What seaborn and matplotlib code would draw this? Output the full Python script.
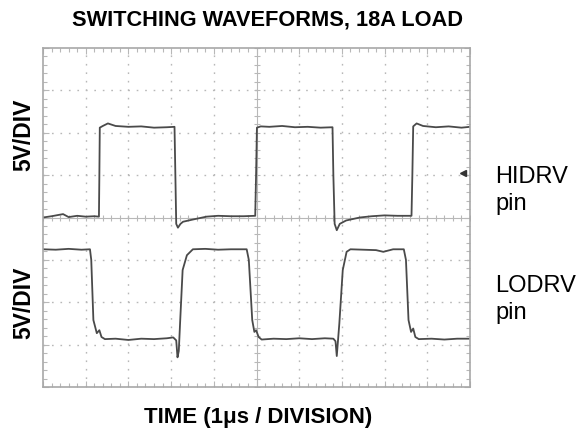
import numpy as np
import pandas as pd
import seaborn as sns
import matplotlib.pyplot as plt

# traces, in divisions (x: 1us/div, y: 5V/div)
hidrv_t = [0.00, 0.20, 0.47, 0.60, 0.80, 1.00, 1.20, 1.31, 1.32, 1.33, 1.40, 1.52, 1.70, 2.00,
           2.30, 2.60, 2.90, 3.08, 3.10, 3.12, 3.16, 3.22, 3.28, 3.50, 3.83, 4.10, 4.40, 4.70,
           4.97, 4.99, 5.01, 5.10, 5.30, 5.60, 5.90, 6.20, 6.50, 6.78, 6.80, 6.83, 6.88, 6.95,
           7.10, 7.42, 7.70, 8.00, 8.30, 8.63, 8.65, 8.67, 8.75, 8.90, 9.20, 9.50, 9.80, 10.00]
hidrv_v = [4.00, 4.03, 4.08, 4.01, 4.04, 4.02, 4.03, 4.02, 5.00, 6.12, 6.16, 6.22, 6.16, 6.14,
           6.15, 6.12, 6.13, 6.14, 5.00, 3.85, 3.76, 3.85, 3.90, 3.95, 4.02, 4.04, 4.03, 4.03,
           4.04, 5.00, 6.12, 6.15, 6.14, 6.16, 6.13, 6.14, 6.12, 6.13, 5.00, 3.85, 3.70, 3.85,
           3.93, 4.00, 4.03, 4.05, 4.04, 4.04, 5.00, 6.15, 6.22, 6.16, 6.13, 6.15, 6.12, 6.14]

lodrv_t = [0.00, 0.30, 0.60, 0.90, 1.10, 1.13, 1.18, 1.26, 1.32, 1.37, 1.45, 1.70, 2.00, 2.30,
           2.60, 2.90, 3.05, 3.12, 3.15, 3.18, 3.21, 3.27, 3.37, 3.51, 3.80, 4.10, 4.40, 4.77,
           4.82, 4.90, 4.95, 4.99, 5.05, 5.12, 5.40, 5.70, 6.00, 6.30, 6.60, 6.80, 6.85, 6.88,
           6.94, 7.02, 7.11, 7.20, 7.50, 7.80, 7.97, 8.20, 8.45, 8.50, 8.56, 8.62, 8.67, 8.72,
           8.80, 9.10, 9.40, 9.70, 10.00]
lodrv_v = [3.25, 3.24, 3.26, 3.24, 3.25, 3.00, 1.58, 1.27, 1.34, 1.18, 1.13, 1.14, 1.11, 1.14,
           1.13, 1.15, 1.17, 1.10, 0.70, 0.85, 1.50, 2.76, 3.11, 3.25, 3.26, 3.24, 3.25, 3.25,
           3.00, 1.58, 1.30, 1.34, 1.18, 1.12, 1.14, 1.13, 1.15, 1.13, 1.15, 1.14, 1.08, 0.73,
           1.50, 2.76, 3.19, 3.25, 3.24, 3.23, 3.19, 3.25, 3.25, 3.00, 1.58, 1.30, 1.38, 1.18,
           1.13, 1.14, 1.12, 1.14, 1.14]

# ground reference marker for channel 1
ref_x = [9.84]
ref_y = [5.05]

n_xdiv = 10
n_ydiv = 8

df = pd.concat([
    pd.DataFrame({"t": hidrv_t, "v": hidrv_v, "ch": "HIDRV"}),
    pd.DataFrame({"t": lodrv_t, "v": lodrv_v, "ch": "LODRV"}),
], ignore_index=True)

sns.set_style("white")
plt.rcParams['font.family'] = ['Liberation Sans', 'DejaVu Sans']
plt.rcParams['text.color'] = 'black'

fig = plt.figure(figsize=(5.76, 4.32), dpi=100)
ax = fig.add_axes([43/576, 1-387/432, 427/576, 339/432])

grid_c = "#b8b8b8"
# dotted graticule
for gx in range(1, n_xdiv):
    if gx != n_xdiv // 2:
        ax.axvline(gx, color=grid_c, lw=1.0, ls=(0, (1.2, 4.9)), zorder=0)
for gy in range(1, n_ydiv):
    if gy != n_ydiv // 2:
        ax.axhline(gy, color=grid_c, lw=1.0, ls=(0, (1.2, 4.9)), zorder=0)
# centre cross with minor ticks
ax.axvline(n_xdiv / 2, color=grid_c, lw=0.8, zorder=0)
ax.axhline(n_ydiv / 2, color=grid_c, lw=0.8, zorder=0)
mx = np.arange(0, n_xdiv + 0.01, 0.2)
my = np.arange(0, n_ydiv + 0.01, 0.2)
ax.plot(mx, np.full_like(mx, n_ydiv / 2), ls="none", marker="|", ms=5, mew=0.8, color=grid_c, zorder=0)
ax.plot(np.full_like(my, n_xdiv / 2), my, ls="none", marker="_", ms=5, mew=0.8, color=grid_c, zorder=0)

sns.lineplot(data=df, x="t", y="v", units="ch", estimator=None, sort=False,
             color="#4a4a4a", lw=1.3, ax=ax, legend=False)
ax.plot(ref_x, ref_y, marker="<", ms=5, color="#333333", ls="none")

ax.set_xlim(0, n_xdiv)
ax.set_ylim(0, n_ydiv)
ax.set_xticks(range(n_xdiv + 1))
ax.set_yticks(range(n_ydiv + 1))
ax.set_xticks(mx, minor=True)
ax.set_yticks(my, minor=True)
ax.tick_params(which="both", direction="in", top=True, right=True, bottom=True, left=True,
               labelbottom=False, labelleft=False, color=grid_c)
ax.tick_params(which="major", length=4, width=0.8)
ax.tick_params(which="minor", length=3, width=0.8)
ax.set_xlabel("")
ax.set_ylabel("")
for s in ax.spines.values():
    s.set_color("#a8a8a8")
    s.set_linewidth(1.2)

fig.text(268/576, 1-20/432, "SWITCHING WAVEFORMS, 18A LOAD", ha="center", va="center",
         fontsize=15.7, fontweight="bold")
fig.text(258/576, 1-417/432, "TIME (1\u03bcs / DIVISION)", ha="center", va="center",
         fontsize=16, fontweight="bold")
fig.text(24/576, 1-135/432, "5V/DIV", rotation=90, ha="center", va="center",
         fontsize=16.5, fontweight="bold")
fig.text(24/576, 1-303/432, "5V/DIV", rotation=90, ha="center", va="center",
         fontsize=16.5, fontweight="bold")
fig.text(495/576, 1-183/432, "HIDRV", ha="left", va="baseline", fontsize=17)
fig.text(495/576, 1-210/432, "pin", ha="left", va="baseline", fontsize=17)
fig.text(495/576, 1-292/432, "LODRV", ha="left", va="baseline", fontsize=17)
fig.text(495/576, 1-319/432, "pin", ha="left", va="baseline", fontsize=17)

fig.savefig("out.png", dpi=100)
